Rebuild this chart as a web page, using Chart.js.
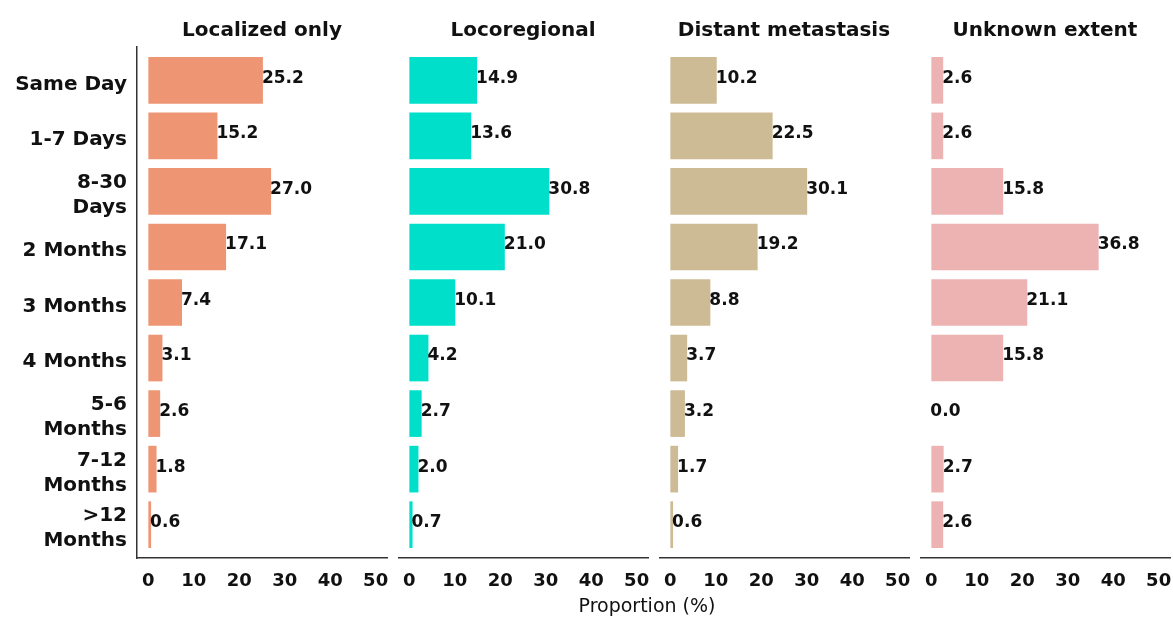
<!DOCTYPE html>
<html>
<head>
<meta charset="utf-8">
<script src="https://cdn.jsdelivr.net/npm/chart.js@4/dist/chart.umd.min.js"></script>
<style>
  html, body { margin: 0; padding: 0; background: #fff; }
  body { width: 1173px; height: 617px; position: relative; overflow: hidden; }
  .panel { position: absolute; top: 0; }
  #xtitle { position: absolute; top: 593px; line-height: 24px;
            font-family: "DejaVu Sans", sans-serif; font-size: 19px; color: #111;
            text-align: center; }
</style>
</head>
<body>
<div class="panel" style="left:0px"><canvas id="c0" width="390" height="617"></canvas></div>
<div class="panel" style="left:398px"><canvas id="c1" width="253" height="617"></canvas></div>
<div class="panel" style="left:659px"><canvas id="c2" width="253" height="617"></canvas></div>
<div class="panel" style="left:920px"><canvas id="c3" width="253" height="617"></canvas></div>
<div id="xtitle" style="left:347px;width:600px">Proportion (%)</div>
<script>
// ---- data ----
const categories = ["Same Day", "1-7 Days", ["8-30", "Days"], "2 Months", "3 Months", "4 Months",
                    ["5-6", "Months"], ["7-12", "Months"], [">12", "Months"]];
const panelTitles = ["Localized only", "Locoregional", "Distant metastasis", "Unknown extent"];
const localizedOnly     = [25.2, 15.2, 27.0, 17.1, 7.4, 3.1, 2.6, 1.8, 0.6];
const locoregional      = [14.9, 13.6, 30.8, 21.0, 10.1, 4.2, 2.7, 2.0, 0.7];
const distantMetastasis = [10.2, 22.5, 30.1, 19.2, 8.8, 3.7, 3.2, 1.7, 0.6];
const unknownExtent     = [2.6, 2.6, 15.8, 36.8, 21.1, 15.8, 0.0, 2.7, 2.6];
const xTicks = [0, 10, 20, 30, 40, 50];
const panelColors = ["#EE9673", "#00DFCA", "#CDBB95", "#EDB3B3"];
const seriesList = [localizedOnly, locoregional, distantMetastasis, unknownExtent];

const FONT = '"DejaVu Sans", sans-serif';
const TEXT = '#111111';

const valueLabels = {
  id: 'valueLabels',
  afterDatasetsDraw(chart) {
    const ctx = chart.ctx;
    const meta = chart.getDatasetMeta(0);
    const vals = chart.data.datasets[0].data;
    ctx.save();
    ctx.font = 'bold 17px ' + FONT;
    ctx.fillStyle = TEXT;
    ctx.textAlign = 'left';
    ctx.textBaseline = 'middle';
    meta.data.forEach((bar, i) => {
      ctx.fillText(vals[i].x.toFixed(1), bar.x - 1, bar.y - 2);
    });
    ctx.restore();
  }
};

function makeChart(idx) {
  const first = idx === 0;
  const data = seriesList[idx].map((v, i) => ({ x: v, y: i }));
  new Chart(document.getElementById('c' + idx), {
    type: 'bar',
    data: {
      datasets: [{
        data: data,
        backgroundColor: panelColors[idx],
        borderWidth: 0,
        barPercentage: 0.84,
        categoryPercentage: 1.0
      }]
    },
    options: {
      indexAxis: 'y',
      responsive: false,
      animation: false,
      devicePixelRatio: 1,
      layout: { padding: { left: 0, right: 3, top: 0, bottom: 0 } },
      plugins: {
        legend: { display: false },
        tooltip: { enabled: false },
        title: {
          display: true,
          text: panelTitles[idx],
          fullSize: false,
          color: TEXT,
          font: { family: FONT, size: 20, weight: 'bold', lineHeight: 1.2 },
          padding: { top: 19, bottom: 4 }
        }
      },
      scales: {
        x: {
          type: 'linear',
          min: -2.5,
          max: 52.5,
          offset: false,
          afterBuildTicks: (s) => { s.ticks = xTicks.map(v => ({ value: v })); },
          afterFit: (s) => { s.height = 59; s.paddingLeft = 0; s.paddingRight = 0; },
          grid: { display: false, drawTicks: false },
          border: { display: true, color: '#333333', width: 1.5 },
          ticks: {
            color: TEXT,
            padding: 13,
            maxRotation: 0,
            autoSkip: false,
            font: { family: FONT, size: 18, weight: 'bold' }
          }
        },
        y: {
          type: 'linear',
          display: first,
          reverse: true,
          offset: false,
          min: -0.6,
          max: 8.6,
          afterBuildTicks: (s) => { s.ticks = categories.map((c, i) => ({ value: i })); },
          afterFit: (s) => { s.width = first ? 137 : 0; s.paddingTop = 0; s.paddingBottom = 0; },
          grid: { display: false, drawTicks: false },
          border: { display: true, color: '#333333', width: 1.5 },
          ticks: {
            color: TEXT,
            padding: 10,
            labelOffset: 4,
            autoSkip: false,
            font: { family: FONT, size: 20, weight: 'bold', lineHeight: 1.25 },
            callback: (v) => categories[v]
          }
        }
      }
    },
    plugins: [valueLabels]
  });
}
[0, 1, 2, 3].forEach(makeChart);
</script>
</body>
</html>
